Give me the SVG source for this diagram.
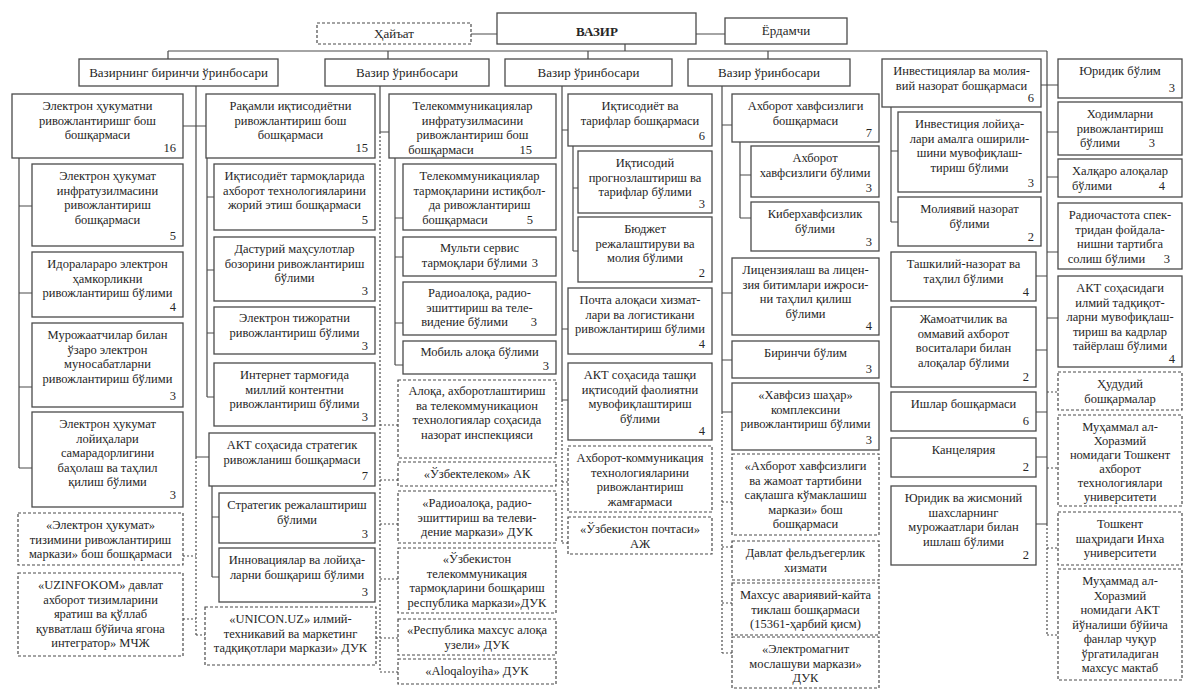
<svg xmlns="http://www.w3.org/2000/svg" width="1189" height="700" viewBox="0 0 1189 700">
<style>
.b{fill:#fff;stroke:#4a4a4a;stroke-width:1.3}
.d{fill:#fff;stroke:#4a4a4a;stroke-width:1.2;stroke-dasharray:3 2}
.t{font-family:"Liberation Serif","Times New Roman",serif;font-size:12.5px;fill:#262626;text-anchor:middle}
.h{font-size:13px}
.n{font-family:"Liberation Serif","Times New Roman",serif;font-size:12.5px;fill:#262626;text-anchor:end}
.s{text-anchor:start}
.c{fill:none;stroke:#4a4a4a;stroke-width:1.2}
.cd{fill:none;stroke:#4a4a4a;stroke-width:1.2;stroke-dasharray:2 2}
</style>
<rect width="1189" height="700" fill="#fff"/>
<g id="connectors">
<path class="c" d="M471 34H497M696 34H725M625 44V51M168 51H1047M168 51V59M388 51V59M588 51V59M768 51V59
M196 86V457M183 126H206M196 457H209
M19 158V468M19 206H32M19 293H32M19 387H32M19 468H32
M207 158V397M207 197H214M207 270H214M207 333H214M207 397H214
M212 486V577M212 517H219M212 577H219
M380 86V132H389
M395 158V365M395 218H403M395 257H403M395 323H403M395 365H403
M562 86V400M562 130H568M562 329H568M562 400H568
M573 146V251M573 188H578M573 251H578
M722 86V412M722 125H732M722 293H732M722 360H732M722 412H732
M740 142V218M740 175H751M740 218H751
M1047 51V524M1041 85H1058M1036 276H1047M1036 350H1047M1036 412H1047M1036 457H1047M1036 524H1047
M1047 132H1058M1047 177H1058M1047 252H1058M1047 318H1058
M891 107V222M891 151H898M891 222H898"/>
<path class="cd" d="M196 457V635M183 556H196M183 619H196M196 635H205
M380 132V672M380 425H398M380 480H398M380 524H398M380 579H398M376 638H398M380 672H398
M562 400V543M562 482H568M562 543H568
M722 412V653M722 502H732M722 547H732M722 603H732M722 653H732
M1047 524V635M1047 392H1058M1047 468H1058M1047 548H1058M1047 635H1058"/>
</g>

<g id="vazir"><rect class="b" x="497" y="13" width="199" height="31"/><text class="t h" x="597" y="36" font-weight="bold">ВАЗИР</text></g>
<g id="hayat"><rect class="d" x="317" y="23" width="154" height="21"/><text class="t h" x="394" y="38">Ҳайъат</text></g>
<g id="yordamchi"><rect class="b" x="725" y="18" width="122" height="26"/><text class="t h" x="786" y="35">Ёрдамчи</text></g>

<g id="dep1"><rect class="b" x="79" y="59" width="199" height="27"/><text class="t h" x="178.5" y="77">Вазирнинг биринчи ўринбосари</text></g>
<g id="dep2"><rect class="b" x="325" y="59" width="164" height="27"/><text class="t h" x="407" y="77">Вазир ўринбосари</text></g>
<g id="dep3"><rect class="b" x="505" y="59" width="167" height="27"/><text class="t h" x="588.5" y="77">Вазир ўринбосари</text></g>
<g id="dep4"><rect class="b" x="688" y="59" width="162" height="27"/><text class="t h" x="769" y="77">Вазир ўринбосари</text></g>

<g id="n8"><rect class="b" x="12" y="94" width="171" height="64"/><text class="t"><tspan x="97.5" y="110">Электрон ҳукуматни</tspan><tspan x="97.5" y="124.5">ривожлантиришг бош</tspan><tspan x="97.5" y="139">бошқармаси</tspan></text><text class="n" x="176" y="152">16</text></g>
<g id="n9"><rect class="b" x="32" y="164" width="151" height="82"/><text class="t"><tspan x="107.5" y="180">Электрон ҳукумат</tspan><tspan x="107.5" y="194.5">инфратузилмасини</tspan><tspan x="107.5" y="209">ривожлантириш</tspan><tspan x="107.5" y="223.5">бошқармаси</tspan></text><text class="n" x="176" y="240">5</text></g>
<g id="n10"><rect class="b" x="32" y="252" width="151" height="65"/><text class="t"><tspan x="107.5" y="268">Идоралараро электрон</tspan><tspan x="107.5" y="282.5">ҳамкорликни</tspan><tspan x="107.5" y="297">ривожлантириш бўлими</tspan></text><text class="n" x="176" y="311">4</text></g>
<g id="n11"><rect class="b" x="32" y="323" width="151" height="84"/><text class="t"><tspan x="107.5" y="339">Мурожаатчилар билан</tspan><tspan x="107.5" y="353.5">ўзаро электрон</tspan><tspan x="107.5" y="368">муносабатларни</tspan><tspan x="107.5" y="382.5">ривожлантириш бўлими</tspan></text><text class="n" x="176" y="400">3</text></g>
<g id="n12"><rect class="b" x="32" y="412" width="151" height="95"/><text class="t"><tspan x="107.5" y="428">Электрон ҳукумат</tspan><tspan x="107.5" y="442.5">лойиҳалари</tspan><tspan x="107.5" y="457">самарадорлигини</tspan><tspan x="107.5" y="471.5">баҳолаш ва таҳлил</tspan><tspan x="107.5" y="486">қилиш бўлими</tspan></text><text class="n" x="176" y="499">3</text></g>
<g id="n13"><rect class="d" x="18" y="513" width="165" height="52"/><text class="t"><tspan x="100.5" y="529">«Электрон ҳукумат»</tspan><tspan x="100.5" y="543.5">тизимини ривожлантириш</tspan><tspan x="100.5" y="558">маркази» бош бошқармаси</tspan></text></g>
<g id="n14"><rect class="d" x="18" y="573" width="165" height="83"/><text class="t"><tspan x="100.5" y="589">«UZINFOKOM» давлат</tspan><tspan x="100.5" y="603.5">ахборот тизимларини</tspan><tspan x="100.5" y="618">яратиш ва қўллаб</tspan><tspan x="100.5" y="632.5">қувватлаш бўйича ягона</tspan><tspan x="100.5" y="647">интегратор» МЧЖ</tspan></text></g>

<g id="n15"><rect class="b" x="206" y="94" width="169" height="64"/><text class="t"><tspan x="290.5" y="110">Рақамли иқтисодиётни</tspan><tspan x="290.5" y="124.5">ривожлантириш бош</tspan><tspan x="290.5" y="139">бошқармаси</tspan></text><text class="n" x="368" y="152">15</text></g>
<g id="n16"><rect class="b" x="214" y="164" width="161" height="66"/><text class="t"><tspan x="294.5" y="180">Иқтисодиёт тармоқларида</tspan><tspan x="294.5" y="194.5">ахборот технологияларини</tspan><tspan x="294.5" y="209">жорий этиш бошқармаси</tspan></text><text class="n" x="368" y="224">5</text></g>
<g id="n17"><rect class="b" x="214" y="237" width="161" height="64"/><text class="t"><tspan x="294.5" y="253">Дастурий маҳсулотлар</tspan><tspan x="294.5" y="267.5">бозорини ривожлантириш</tspan><tspan x="294.5" y="282">бўлими</tspan></text><text class="n" x="368" y="295">3</text></g>
<g id="n18"><rect class="b" x="214" y="307" width="161" height="47"/><text class="t"><tspan x="294.5" y="322">Электрон тижоратни</tspan><tspan x="294.5" y="336.5">ривожлантириш бўлими</tspan></text><text class="n" x="368" y="350">3</text></g>
<g id="n19"><rect class="b" x="214" y="363" width="161" height="63"/><text class="t"><tspan x="294.5" y="379">Интернет тармоғида</tspan><tspan x="294.5" y="393.5">миллий контентни</tspan><tspan x="294.5" y="408">ривожлантириш бўлими</tspan></text><text class="n" x="368" y="421">3</text></g>
<g id="n20"><rect class="b" x="209" y="433" width="166" height="53"/><text class="t"><tspan x="292" y="449">АКТ соҳасида стратегик</tspan><tspan x="292" y="463.5">ривожланиш бошқармаси</tspan></text><text class="n" x="368" y="480">7</text></g>
<g id="n21"><rect class="b" x="219" y="493" width="156" height="50"/><text class="t"><tspan x="297" y="509">Стратегик режалаштириш</tspan><tspan x="297" y="523.5">бўлими</tspan></text><text class="n" x="368" y="538">3</text></g>
<g id="n22"><rect class="b" x="219" y="548" width="156" height="54"/><text class="t"><tspan x="297" y="564">Инновациялар ва лойиҳа-</tspan><tspan x="297" y="578.5">ларни бошқариш бўлими</tspan></text><text class="n" x="368" y="596">3</text></g>
<g id="n23"><rect class="d" x="205" y="607" width="171" height="58"/><text class="t"><tspan x="290.5" y="623">«UNICON.UZ» илмий-</tspan><tspan x="290.5" y="637.5">техникавий ва маркетинг</tspan><tspan x="290.5" y="652">тадқиқотлари маркази» ДУК</tspan></text></g>

<g id="n24"><rect class="b" x="389" y="94" width="167" height="64"/><text class="t"><tspan x="472.5" y="110">Телекоммуникациялар</tspan><tspan x="472.5" y="124.5">инфратузилмасини</tspan><tspan x="472.5" y="139">ривожлантириш бош</tspan><tspan x="441" y="153.5">бошқармаси</tspan></text><text class="n" x="532" y="153.5">15</text></g>
<g id="n25"><rect class="b" x="403" y="164" width="153" height="66"/><text class="t"><tspan x="479.5" y="180">Телекоммуникациялар</tspan><tspan x="479.5" y="194.5">тармоқларини истиқбол-</tspan><tspan x="479.5" y="209">да ривожлантириш</tspan><tspan x="455" y="223.5">бошқармаси</tspan></text><text class="n" x="533" y="223.5">5</text></g>
<g id="n26"><rect class="b" x="403" y="237" width="153" height="39"/><text class="t"><tspan x="479.5" y="252">Мульти сервис</tspan><tspan x="474.5" y="266.5">тармоқлари бўлими</tspan></text><text class="n" x="538" y="266.5">3</text></g>
<g id="n27"><rect class="b" x="403" y="282" width="153" height="53"/><text class="t"><tspan x="479.5" y="297">Радиоалоқа, радио-</tspan><tspan x="479.5" y="311.5">эшиттириш ва теле-</tspan><tspan x="464.5" y="326">видение бўлими</tspan></text><text class="n" x="537" y="326">3</text></g>
<g id="n28"><rect class="b" x="403" y="341" width="153" height="33"/><text class="t"><tspan x="479.5" y="356">Мобиль алоқа бўлими</tspan></text><text class="n" x="549" y="370">3</text></g>
<g id="n29"><rect class="d" x="398" y="380" width="158" height="78"/><text class="t"><tspan x="477" y="395">Алоқа, ахборотлаштириш</tspan><tspan x="477" y="409.5">ва телекоммуникацион</tspan><tspan x="477" y="424">технологиялар соҳасида</tspan><tspan x="477" y="438.5">назорат инспекцияси</tspan></text></g>
<g id="n30"><rect class="d" x="398" y="462" width="158" height="24"/><text class="t"><tspan x="477" y="478">«Ўзбектелеком» АК</tspan></text></g>
<g id="n31"><rect class="d" x="398" y="491" width="158" height="52"/><text class="t"><tspan x="477" y="507">«Радиоалоқа, радио-</tspan><tspan x="477" y="521.5">эшиттириш ва телеви-</tspan><tspan x="477" y="536">дение маркази» ДУК</tspan></text></g>
<g id="n32"><rect class="d" x="398" y="548" width="158" height="65"/><text class="t"><tspan x="477" y="563">«Ўзбекистон</tspan><tspan x="477" y="577.5">телекоммуникация</tspan><tspan x="477" y="592">тармоқларини бошқариш</tspan><tspan x="477" y="606.5">республика маркази»ДУК</tspan></text></g>
<g id="n33"><rect class="d" x="398" y="619" width="158" height="36"/><text class="t"><tspan x="477" y="634">«Республика махсус алоқа</tspan><tspan x="477" y="648.5">узели» ДУК</tspan></text></g>
<g id="n34"><rect class="d" x="398" y="659" width="158" height="25"/><text class="t"><tspan x="477" y="675">«Aloqaloyiha» ДУК</tspan></text></g>

<g id="n35"><rect class="b" x="568" y="94" width="144" height="52"/><text class="t"><tspan x="640" y="110">Иқтисодиёт ва</tspan><tspan x="640" y="124.5">тарифлар бошқармаси</tspan></text><text class="n" x="705" y="140">6</text></g>
<g id="n36"><rect class="b" x="578" y="151" width="134" height="62"/><text class="t"><tspan x="645" y="167">Иқтисодий</tspan><tspan x="645" y="181.5">прогнозлаштириш ва</tspan><tspan x="645" y="196">тарифлар бўлими</tspan></text><text class="n" x="705" y="208">3</text></g>
<g id="n37"><rect class="b" x="578" y="217" width="134" height="65"/><text class="t"><tspan x="645" y="233">Бюджет</tspan><tspan x="645" y="247.5">режалаштируви ва</tspan><tspan x="645" y="262">молия бўлими</tspan></text><text class="n" x="705" y="277">2</text></g>
<g id="n38"><rect class="b" x="568" y="288" width="144" height="66"/><text class="t"><tspan x="640" y="304">Почта алоқаси хизмат-</tspan><tspan x="640" y="318.5">лари ва логистикани</tspan><tspan x="640" y="333">ривожлантириш бўлими</tspan></text><text class="n" x="705" y="348">4</text></g>
<g id="n39"><rect class="b" x="568" y="363" width="144" height="77"/><text class="t"><tspan x="640" y="379">АКТ соҳасида ташқи</tspan><tspan x="640" y="393.5">иқтисодий фаолиятни</tspan><tspan x="640" y="408">мувофиқлаштириш</tspan><tspan x="640" y="422.5">бўлими</tspan></text><text class="n" x="705" y="435">4</text></g>
<g id="n40"><rect class="d" x="568" y="446" width="144" height="66"/><text class="t"><tspan x="640" y="462">Ахборот-коммуникация</tspan><tspan x="640" y="476.5">технологияларини</tspan><tspan x="640" y="491">ривожлантириш</tspan><tspan x="640" y="505.5">жамғармаси</tspan></text></g>
<g id="n41"><rect class="d" x="568" y="517" width="144" height="37"/><text class="t"><tspan x="640" y="533">«Ўзбекистон почтаси»</tspan><tspan x="640" y="547.5">АЖ</tspan></text></g>

<g id="n42"><rect class="b" x="732" y="94" width="147" height="48"/><text class="t"><tspan x="805.5" y="110">Ахборот хавфсизлиги</tspan><tspan x="805.5" y="124.5">бошқармаси</tspan></text><text class="n" x="872" y="137">7</text></g>
<g id="n43"><rect class="b" x="751" y="146" width="128" height="51"/><text class="t"><tspan x="815" y="162">Ахборот</tspan><tspan x="815" y="176.5">хавфсизлиги бўлими</tspan></text><text class="n" x="872" y="192">3</text></g>
<g id="n44"><rect class="b" x="751" y="202" width="128" height="49"/><text class="t"><tspan x="815" y="218">Киберхавфсизлик</tspan><tspan x="815" y="232.5">бўлими</tspan></text><text class="n" x="872" y="246">3</text></g>
<g id="n45"><rect class="b" x="732" y="258" width="147" height="77"/><text class="t"><tspan x="805.5" y="274">Лицензиялаш ва лицен-</tspan><tspan x="805.5" y="288.5">зия битимлари ижроси-</tspan><tspan x="805.5" y="303">ни таҳлил қилиш</tspan><tspan x="805.5" y="317.5">бўлими</tspan></text><text class="n" x="872" y="330">4</text></g>
<g id="n46"><rect class="b" x="732" y="341" width="147" height="37"/><text class="t"><tspan x="805.5" y="357">Биринчи бўлим</tspan></text><text class="n" x="872" y="373">3</text></g>
<g id="n47"><rect class="b" x="732" y="383" width="147" height="67"/><text class="t"><tspan x="805.5" y="399">«Хавфсиз шаҳар»</tspan><tspan x="805.5" y="413.5">комплексини</tspan><tspan x="805.5" y="428">ривожлантириш бўлими</tspan></text><text class="n" x="872" y="444">3</text></g>
<g id="n48"><rect class="d" x="732" y="454" width="147" height="81"/><text class="t"><tspan x="805.5" y="470">«Ахборот хавфсизлиги</tspan><tspan x="805.5" y="484.5">ва жамоат тартибини</tspan><tspan x="805.5" y="499">сақлашга кўмаклашиш</tspan><tspan x="805.5" y="513.5">маркази» бош</tspan><tspan x="805.5" y="528">бошқармаси</tspan></text></g>
<g id="n49"><rect class="d" x="732" y="541" width="147" height="39"/><text class="t"><tspan x="805.5" y="557">Давлат фельдъегерлик</tspan><tspan x="805.5" y="571.5">хизмати</tspan></text></g>
<g id="n50"><rect class="d" x="732" y="583" width="147" height="52"/><text class="t"><tspan x="805.5" y="599">Махсус авариявий-кайта</tspan><tspan x="805.5" y="613.5">тиклаш бошқармаси</tspan><tspan x="805.5" y="628">(15361-ҳарбий қисм)</tspan></text></g>
<g id="n51"><rect class="d" x="732" y="637" width="147" height="51"/><text class="t"><tspan x="805.5" y="653">«Электромагнит</tspan><tspan x="805.5" y="667.5">мослашуви маркази»</tspan><tspan x="805.5" y="682">ДУК</tspan></text></g>

<g id="n52"><rect class="b" x="882" y="59" width="159" height="48"/><text class="t"><tspan x="961.5" y="75">Инвестициялар ва молия-</tspan><tspan x="961.5" y="89.5">вий назорат бошқармаси</tspan></text><text class="n" x="1034" y="102">6</text></g>
<g id="n53"><rect class="b" x="898" y="112" width="143" height="80"/><text class="t"><tspan x="969.5" y="128">Инвестиция лойиҳа-</tspan><tspan x="969.5" y="142.5">лари амалга оширили-</tspan><tspan x="969.5" y="157">шини мувофиқлаш-</tspan><tspan x="969.5" y="171.5">тириш бўлими</tspan></text><text class="n" x="1034" y="187">3</text></g>
<g id="n54"><rect class="b" x="898" y="197" width="143" height="49"/><text class="t"><tspan x="969.5" y="213">Молиявий назорат</tspan><tspan x="969.5" y="227.5">бўлими</tspan></text><text class="n" x="1034" y="241">2</text></g>
<g id="n55"><rect class="b" x="891" y="252" width="145" height="49"/><text class="t"><tspan x="963.5" y="268">Ташкилий-назорат ва</tspan><tspan x="963.5" y="282.5">таҳлил бўлими</tspan></text><text class="n" x="1029" y="296">4</text></g>
<g id="n56"><rect class="b" x="891" y="307" width="145" height="80"/><text class="t"><tspan x="963.5" y="323">Жамоатчилик ва</tspan><tspan x="963.5" y="337.5">оммавий ахборот</tspan><tspan x="963.5" y="352">воситалари билан</tspan><tspan x="963.5" y="366.5">алоқалар бўлими</tspan></text><text class="n" x="1029" y="381">2</text></g>
<g id="n57"><rect class="b" x="891" y="392" width="145" height="39"/><text class="t"><tspan x="963.5" y="408">Ишлар бошқармаси</tspan></text><text class="n" x="1029" y="425">6</text></g>
<g id="n58"><rect class="b" x="891" y="438" width="145" height="39"/><text class="t"><tspan x="963.5" y="454">Канцелярия</tspan></text><text class="n" x="1029" y="471">2</text></g>
<g id="n59"><rect class="b" x="891" y="486" width="145" height="79"/><text class="t"><tspan x="963.5" y="502">Юридик ва жисмоний</tspan><tspan x="963.5" y="516.5">шахсларнинг</tspan><tspan x="963.5" y="531">мурожаатлари билан</tspan><tspan x="963.5" y="545.5">ишлаш бўлими</tspan></text><text class="n" x="1029" y="559">2</text></g>

<g id="n60"><rect class="b" x="1058" y="59" width="124" height="39"/><text class="t"><tspan x="1120" y="75">Юридик бўлим</tspan></text><text class="n" x="1175" y="92">3</text></g>
<g id="n61"><rect class="b" x="1058" y="102" width="124" height="53"/><text class="t"><tspan x="1120" y="118">Ходимларни</tspan><tspan x="1120" y="132.5">ривожлантириш</tspan><tspan x="1100" y="147">бўлими</tspan></text><text class="n" x="1155" y="147">3</text></g>
<g id="n62"><rect class="b" x="1058" y="159" width="124" height="38"/><text class="t"><tspan x="1120" y="175">Халқаро алоқалар</tspan><tspan x="1092" y="189.5">бўлими</tspan></text><text class="n" x="1165" y="189.5">4</text></g>
<g id="n63"><rect class="b" x="1058" y="203" width="124" height="66"/><text class="t"><tspan x="1120" y="219">Радиочастота спек-</tspan><tspan x="1120" y="233.5">тридан фойдала-</tspan><tspan x="1120" y="248">нишни тартибга</tspan><tspan x="1106.5" y="262.5">солиш бўлими</tspan></text><text class="n" x="1170" y="262.5">3</text></g>
<g id="n64"><rect class="b" x="1058" y="276" width="124" height="91"/><text class="t"><tspan x="1120" y="292">АКТ соҳасидаги</tspan><tspan x="1120" y="306.5">илмий тадқиқот-</tspan><tspan x="1120" y="321">ларни мувофиқлаш-</tspan><tspan x="1120" y="335.5">тириш ва кадрлар</tspan><tspan x="1120" y="350">тайёрлаш бўлими</tspan></text><text class="n" x="1175" y="363">4</text></g>
<g id="n65"><rect class="d" x="1058" y="372" width="124" height="38"/><text class="t"><tspan x="1120" y="388">Ҳудудий</tspan><tspan x="1120" y="402.5">бошқармалар</tspan></text></g>
<g id="n66"><rect class="d" x="1058" y="415" width="124" height="91"/><text class="t"><tspan x="1120" y="431">Муҳаммал ал-</tspan><tspan x="1120" y="445">Хоразмий</tspan><tspan x="1120" y="459">номидаги Тошкент</tspan><tspan x="1120" y="473">ахборот</tspan><tspan x="1120" y="487">технологиялари</tspan><tspan x="1120" y="501">университети</tspan></text></g>
<g id="n67"><rect class="d" x="1058" y="512" width="124" height="53"/><text class="t"><tspan x="1120" y="528">Тошкент</tspan><tspan x="1120" y="542.5">шаҳридаги Инха</tspan><tspan x="1120" y="557">университети</tspan></text></g>
<g id="n68"><rect class="d" x="1058" y="569" width="124" height="111"/><text class="t"><tspan x="1120" y="585">Муҳаммад ал-</tspan><tspan x="1120" y="599.5">Хоразмий</tspan><tspan x="1120" y="614">номидаги АКТ</tspan><tspan x="1120" y="628.5">йўналиши бўйича</tspan><tspan x="1120" y="643">фанлар чуқур</tspan><tspan x="1120" y="657.5">ўргатиладиган</tspan><tspan x="1120" y="672">махсус мактаб</tspan></text></g>
</svg>
